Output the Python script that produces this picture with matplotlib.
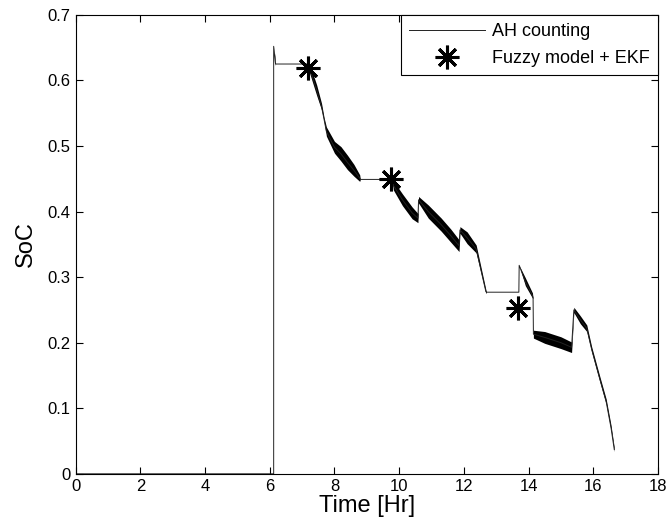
import matplotlib
matplotlib.use('Agg')
import matplotlib.pyplot as plt
import numpy as np

plt.rcParams['font.family'] = ['Liberation Sans', 'DejaVu Sans']

# AH counting trace (time in hours, SoC, half-width of the noise band)
t_hr = [0.0, 6.12, 6.12, 6.17, 6.18, 7.20, 7.22, 7.45, 7.60, 7.68, 7.75, 8.00,
        8.20, 8.40, 8.60, 8.78, 8.80, 9.78, 9.82, 10.10, 10.40, 10.58, 10.60,
        10.90, 11.30, 11.60, 11.85, 11.88, 12.10, 12.38, 12.68, 12.70, 13.70,
        13.71, 13.90, 14.12, 14.14, 14.15, 14.50, 15.00, 15.33, 15.40, 15.60,
        15.80, 15.95, 16.20, 16.40, 16.55, 16.65]
soc = [0.0, 0.0, 0.652, 0.628, 0.625, 0.625, 0.620, 0.585, 0.560, 0.540, 0.522, 0.498,
       0.488, 0.475, 0.463, 0.451, 0.449, 0.449, 0.440, 0.418, 0.398, 0.390, 0.418,
       0.400, 0.380, 0.363, 0.348, 0.372, 0.360, 0.343, 0.278, 0.277, 0.277,
       0.318, 0.293, 0.272, 0.268, 0.213, 0.208, 0.200, 0.193, 0.250, 0.235,
       0.222, 0.190, 0.145, 0.110, 0.070, 0.037]
band = [0.0, 0.0, 0.0, 0.005, 0.0, 0.0, 0.007, 0.008, 0.005, 0.003, 0.007, 0.009,
        0.011, 0.011, 0.009, 0.005, 0.0, 0.0, 0.007, 0.009, 0.009, 0.007, 0.005,
        0.010, 0.010, 0.010, 0.009, 0.005, 0.009, 0.006, 0.003, 0.0, 0.0,
        0.0, 0.006, 0.004, 0.0, 0.006, 0.009, 0.009, 0.008, 0.004, 0.006,
        0.005, 0.004, 0.004, 0.004, 0.004, 0.003]

# Fuzzy model + EKF estimates
fz_t = [7.19, 9.76, 13.68]
fz_soc = [0.619, 0.449, 0.253]

t_hr = np.array(t_hr)
soc = np.array(soc)
band = np.array(band)

fig, ax = plt.subplots(figsize=(6.7, 5.3), dpi=100)
fig.subplots_adjust(left=0.113, right=0.982, top=0.972, bottom=0.106)

ax.plot(t_hr, soc, color='#222222', lw=0.7, label='AH counting')
ax.fill_between(t_hr, soc - band, soc + band, color='black', lw=0)
ax.plot(fz_t, fz_soc, linestyle='none', marker=(8, 2, 0), markersize=17,
        markeredgewidth=2.2, color='black', label='Fuzzy model + EKF')

ax.set_xlim(0, 18)
ax.set_ylim(0, 0.7)
ax.set_xticks(np.arange(0, 19, 2))
ax.set_yticks(np.arange(0, 0.71, 0.1))
ax.set_yticklabels(['0', '0.1', '0.2', '0.3', '0.4', '0.5', '0.6', '0.7'])
ax.tick_params(direction='in', top=True, right=True, length=5, labelsize=12)
for s in ax.spines.values():
    s.set_linewidth(0.8)

ax.set_xlabel('Time [Hr]', fontsize=17, labelpad=1)
ax.set_ylabel('SoC', fontsize=17, labelpad=8)

leg = ax.legend(loc='upper right', borderaxespad=0, fancybox=False,
                edgecolor='black', framealpha=1, fontsize=13,
                handlelength=4.2, handletextpad=0.4, borderpad=0.45,
                labelspacing=0.55)
leg.get_frame().set_linewidth(0.8)

plt.savefig('out.png', dpi=100, facecolor='white')
